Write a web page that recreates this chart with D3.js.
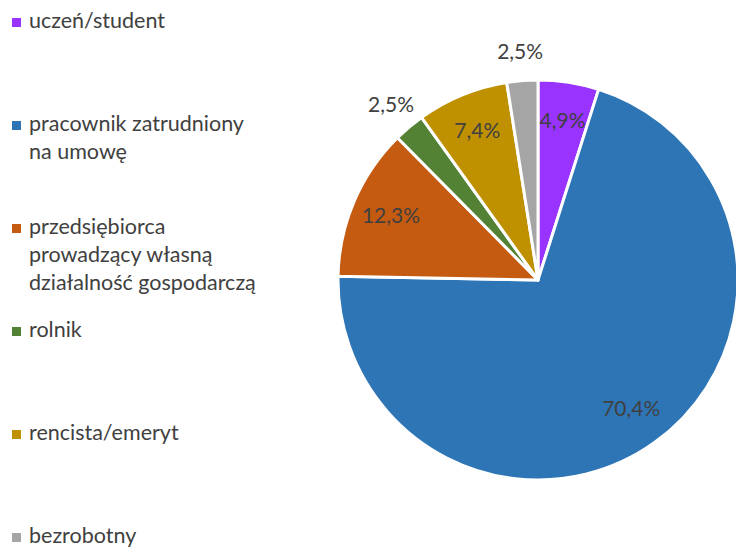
<!DOCTYPE html>
<html>
<head>
<meta charset="utf-8">
<script src="https://cdn.jsdelivr.net/npm/d3@7"></script>
<style>
  body { margin: 0; background: #fff; }
  text { font-family: Lato, "Open Sans", sans-serif; fill: #404040; }
</style>
</head>
<body>
<div id="chart"></div>
<script>
var categories = ["uczeń/student", "pracownik zatrudniony na umowę", "przedsiębiorca prowadzący własną działalność gospodarczą", "rolnik", "rencista/emeryt", "bezrobotny"];
var legendLines = [["uczeń/student"], ["pracownik zatrudniony", "na umowę"], ["przedsiębiorca", "prowadzący własną", "działalność gospodarczą"], ["rolnik"], ["rencista/emeryt"], ["bezrobotny"]];
var values = [4.9, 70.4, 12.3, 2.5, 7.4, 2.5];
var labels = ["4,9%", "70,4%", "12,3%", "2,5%", "7,4%", "2,5%"];
var outside = [false, false, false, true, false, true];
var colors = ["#9933FF", "#2E75B6", "#C55A11", "#548235", "#BF9000", "#A5A5A5"];

var width = 736, height = 547;
var cx = 538, cy = 280, radius = 200;

var svg = d3.select("#chart").append("svg")
    .attr("width", width)
    .attr("height", height);

var color = d3.scaleOrdinal().domain(categories).range(colors);

var pie = d3.pie().sort(null).value(function(d) { return d; });
var arcs = pie(values);

var arc = d3.arc().innerRadius(0).outerRadius(radius);
var inLabel = d3.arc().innerRadius(radius * 0.8).outerRadius(radius * 0.8);
var outLabel = d3.arc().innerRadius(radius * 1.14).outerRadius(radius * 1.14);

var g = svg.append("g").attr("transform", "translate(" + cx + "," + cy + ")");

g.selectAll("path")
    .data(arcs)
    .enter()
    .append("path")
    .attr("d", arc)
    .attr("fill", function(d, i) { return color(categories[i]); })
    .attr("stroke", "#fff")
    .attr("stroke-width", 3)
    .attr("stroke-linejoin", "round");

g.selectAll("text")
    .data(arcs)
    .enter()
    .append("text")
    .attr("transform", function(d, i) {
        var c = outside[i] ? outLabel.centroid(d) : inLabel.centroid(d);
        return "translate(" + c + ")";
    })
    .attr("text-anchor", "middle")
    .attr("dy", "0.3em")
    .attr("font-size", "21px")
    .text(function(d, i) { return labels[i]; });

// legend
var ly = d3.scaleLinear().domain([0, categories.length - 1]).range([28, 543]);
var legend = svg.append("g");
var item = legend.selectAll("g")
    .data(categories)
    .enter()
    .append("g")
    .attr("transform", function(d, i) { return "translate(0," + ly(i) + ")"; });

item.append("rect")
    .attr("x", 12)
    .attr("y", -10)
    .attr("width", 9)
    .attr("height", 9)
    .attr("fill", function(d) { return color(d); });

item.append("text")
    .attr("x", 29)
    .attr("font-size", "21.5px")
    .each(function(d, i) {
        var t = d3.select(this);
        legendLines[i].forEach(function(line, j) {
            t.append("tspan").attr("x", 29).attr("y", j * 28).text(line);
        });
    });
</script>
</body>
</html>
